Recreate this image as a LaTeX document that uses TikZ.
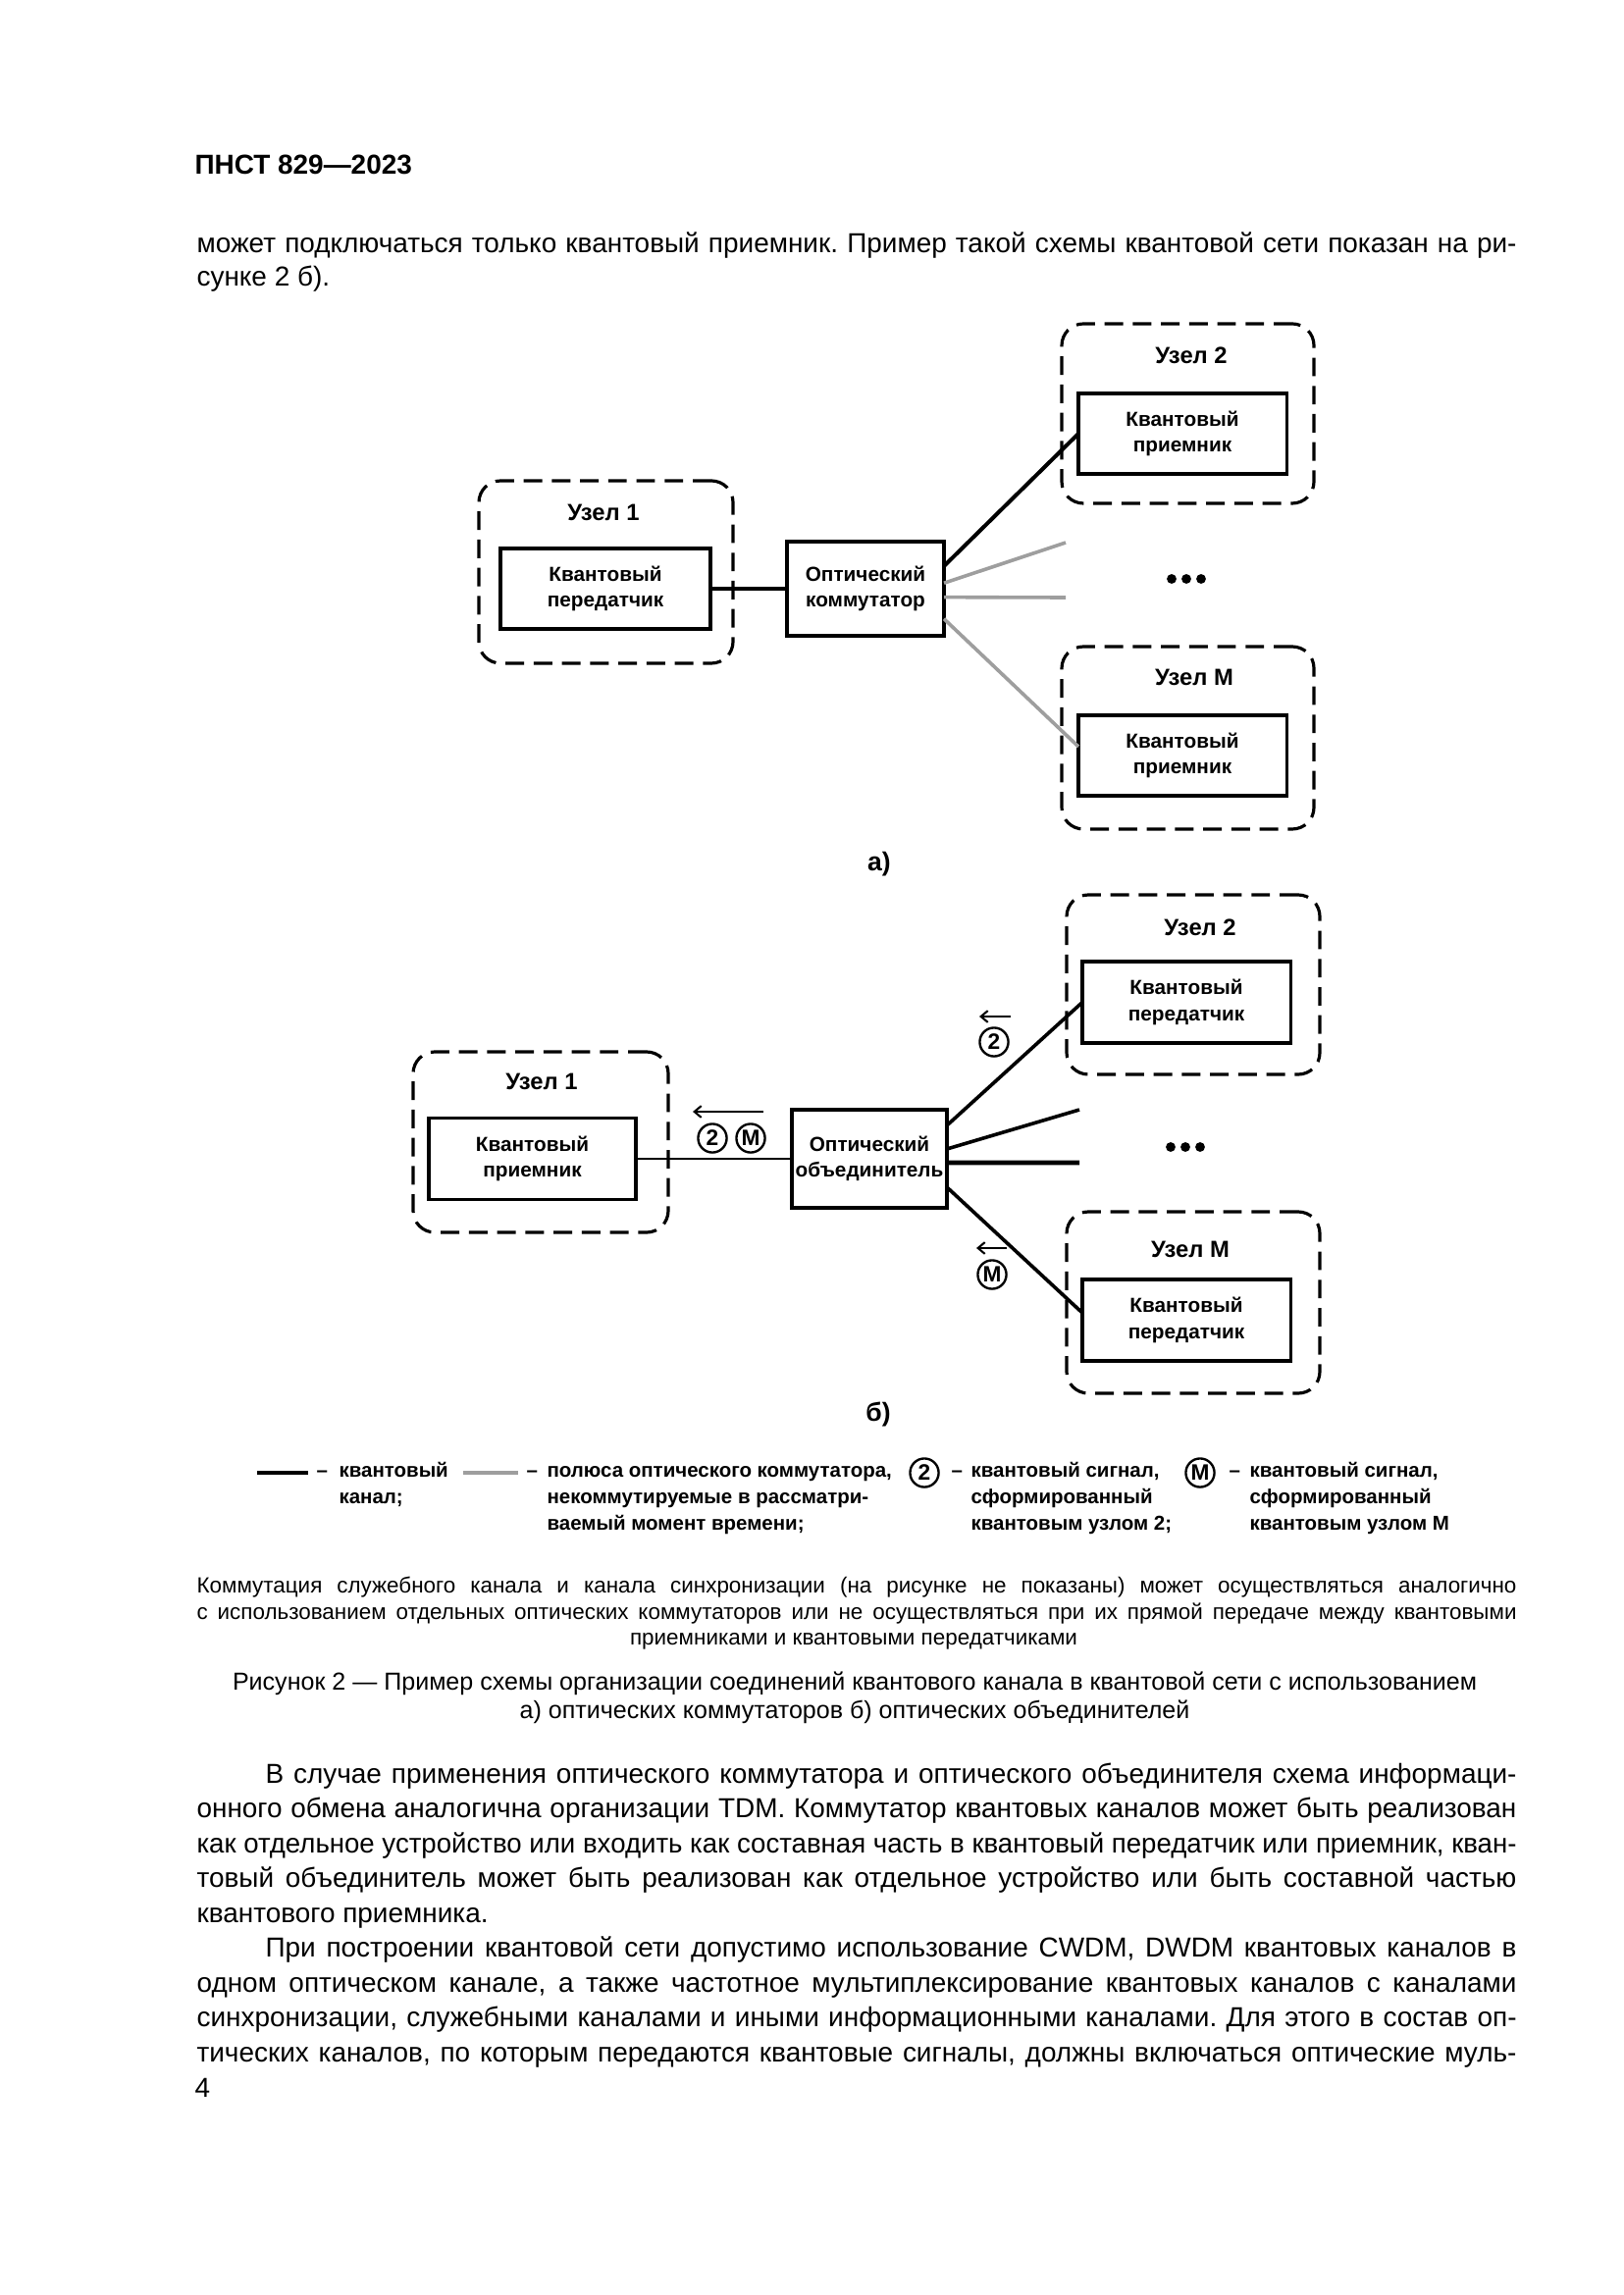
\documentclass[tikz,border=0pt]{standalone}
\usepackage{fontspec}
\setmainfont{Liberation Sans}
\usetikzlibrary{calc,arrows.meta}
\frenchspacing
\newlength\jlw
\newsavebox\jlbox
\newcommand\jl[2]{\setlength\jlw{#1}\sbox\jlbox{#2}\ifdim\wd\jlbox>\jlw\relax\scalebox{\fpeval{\the\jlw/\the\wd\jlbox}}[1]{\usebox\jlbox}\else\makebox[\jlw][s]{#2}\fi}
\newcommand\fbody{\fontsize{10.1}{12.7}\selectfont}
\newcommand\fnote{\fontsize{8.1}{9.5}\selectfont}
\newcommand\fcap{\fontsize{9.05}{10.5}\selectfont}
\newcommand\ffig{\fontsize{7.5}{9.6}\selectfont\bfseries}
\newcommand\flab{\fontsize{8.6}{10}\selectfont\bfseries}
\newcommand\fleg{\fontsize{7.4}{9.6}\selectfont\bfseries}
\begin{document}
\begin{tikzpicture}[x=0.127mm,y=-0.127mm,
  sz/.style 2 args={minimum width=#1*0.127mm,minimum height=#2*0.127mm},
  dnode/.style={draw,dash pattern=on 2.4mm off 1.25mm,line width=1.15pt,rounded corners=2.8mm,inner sep=0,outer sep=0},
  bx/.style={draw,line width=1.1pt,inner sep=0,outer sep=0,align=center,font=\ffig},
  lbl/.style={inner sep=0,font=\flab},
  txt/.style={inner sep=0,anchor=base west},
  ltxt/.style={inner sep=0,anchor=base west,font=\fleg},
  ctxt/.style={inner sep=0,anchor=base},
  chan/.style={line width=1.45pt},
  chanb/.style={line width=1.3pt},
  chanthin/.style={line width=1.05pt},
  chanthick/.style={line width=1.8pt},
  grayl/.style={line width=1.3pt,draw=black!38},
  circ/.style={circle,draw,line width=0.85pt,minimum size=3.7mm,inner sep=0,font=\fontsize{8.2}{8}\selectfont\bfseries},
  sig/.style={line width=0.75pt,-{Straight Barb[length=0.9mm,width=1.5mm]}},
  dotn/.style={circle,fill,minimum size=1.25mm,inner sep=0}
]
\useasboundingbox (0,0) rectangle (1654,2339);

% header and top text
\node[txt] (hdr) at (198,178) {\fbody\bfseries ПНСТ 829—2023};
\node[txt] (p1) at (200,258) {\fbody\jl{170.8mm}{может подключаться только квантовый приемник. Пример такой схемы квантовой сети показан на ри-}};
\node[txt] (p2) at (200,292) {\fbody сунке 2 б).};

% ---------- figure a ----------
\node[dnode,sz={259}{186}] (a1) at (617.5,583) {};
\node[lbl] (a1l) at (615,522) {Узел 1};
\node[bx,sz={214}{82}] (atx) at (617,600) {Квантовый\\передатчик};
\node[bx,sz={160}{96}] (asw) at (882,600) {Оптический\\коммутатор};
\node[dnode,sz={257}{183}] (a2) at (1210.5,421.5) {};
\node[lbl] (a2l) at (1214,362) {Узел 2};
\node[bx,sz={212}{82}] (arx2) at (1205,442) {Квантовый\\приемник};
\node[dnode,sz={257}{186}] (aM) at (1210.5,752) {};
\node[lbl] (aMl) at (1217,690) {Узел М};
\node[bx,sz={212}{82}] (arxM) at (1205,770) {Квантовый\\приемник};
\node[dotn] (ad1) at (1194,590) {};
\node[dotn] (ad2) at (1209,590) {};
\node[dotn] (ad3) at (1224,590) {};
\node[lbl,font=\fontsize{9.6}{10}\selectfont\bfseries] (acap) at (896,881) {а)};
\coordinate (ag1) at (1086,553);
\coordinate (ag2) at (1086,609);
\draw[chan] (atx.east) -- (asw.west);
\draw[chan] ($(asw.north east)!0.26!(asw.south east)$) -- (arx2.west);
\draw[grayl] ($(asw.north east)!0.44!(asw.south east)$) -- (ag1);
\draw[grayl] ($(asw.north east)!0.59!(asw.south east)$) -- (ag2);
\draw[grayl] ($(asw.north east)!0.82!(asw.south east)$) -- ($(arxM.north west)!0.39!(arxM.south west)$);

% ---------- figure b ----------
\node[dnode,sz={260}{184}] (b1) at (551,1164) {};
\node[lbl] (b1l) at (552,1102) {Узел 1};
\node[bx,sz={211}{83}] (brx) at (542.5,1181) {Квантовый\\приемник};
\node[bx,sz={158}{100}] (bcb) at (886,1181) {Оптический\\объединитель};
\node[dnode,sz={258}{183}] (b2) at (1216,1003.5) {};
\node[lbl] (b2l) at (1223,945) {Узел 2};
\node[bx,sz={212}{83}] (btx2) at (1209,1021.5) {Квантовый\\передатчик};
\node[dnode,sz={258}{185}] (bM) at (1216,1327.5) {};
\node[lbl] (bMl) at (1213,1273) {Узел М};
\node[bx,sz={212}{83}] (btxM) at (1209,1345.5) {Квантовый\\передатчик};
\node[dotn] (bd1) at (1193,1169) {};
\node[dotn] (bd2) at (1208,1169) {};
\node[dotn] (bd3) at (1223,1169) {};
\node[lbl,font=\fontsize{9.6}{10}\selectfont\bfseries] (bcap) at (895,1442) {б)};
\coordinate (bg1) at (1100,1131);
\coordinate (bg2) at (1100,1185);
\draw[chanthin] (brx.east) -- (bcb.west);
\draw[chanb] ($(bcb.north east)!0.16!(bcb.south east)$) -- (btx2.west);
\draw[chanb] ($(bcb.north east)!0.40!(bcb.south east)$) -- (bg1);
\draw[chanthick] ($(bcb.north east)!0.54!(bcb.south east)$) -- (bg2);
\draw[chanb] ($(bcb.north east)!0.79!(bcb.south east)$) -- ($(btxM.north west)!0.41!(btxM.south west)$);
% signal marks
\coordinate (s1a) at (1030,1036); \coordinate (s1b) at (998,1036);
\draw[sig] (s1a) -- (s1b);
\node[circ] (c1) at (1013,1062) {2};
\coordinate (s2a) at (1026,1272); \coordinate (s2b) at (995,1272);
\draw[sig] (s2a) -- (s2b);
\node[circ] (c2) at (1011,1299) {М};
\coordinate (s3a) at (778,1133); \coordinate (s3b) at (706,1133);
\draw[sig] (s3a) -- (s3b);
\node[circ] (c3) at (726,1160) {2};
\node[circ] (c4) at (765,1160) {М};

% ---------- legend ----------
\coordinate (l1a) at (262,1501); \coordinate (l1b) at (314,1501);
\draw[chan] (l1a) -- (l1b);
\node[ltxt] (l1d) at (322,1505) {–};
\node[ltxt] (l1t1) at (345,1505) {квантовый};
\node[ltxt] (l1t2) at (345,1532) {канал;};
\coordinate (l2a) at (472,1501); \coordinate (l2b) at (528,1501);
\draw[grayl] (l2a) -- (l2b);
\node[ltxt] (l2d) at (536,1505) {–};
\node[ltxt] (l2t1) at (557,1505) {полюса оптического коммутатора,};
\node[ltxt] (l2t2) at (557,1532) {некоммутируемые в рассматри-};
\node[ltxt] (l2t3) at (557,1559) {ваемый момент времени;};
\node[circ] (lc2) at (942,1501) {2};
\node[ltxt] (l3d) at (969,1505) {–};
\node[ltxt] (l3t1) at (989,1505) {квантовый сигнал,};
\node[ltxt] (l3t2) at (989,1532) {сформированный};
\node[ltxt] (l3t3) at (989,1559) {квантовым узлом 2;};
\node[circ] (lcM) at (1223,1501) {М};
\node[ltxt] (l4d) at (1252,1505) {–};
\node[ltxt] (l4t1) at (1273,1505) {квантовый сигнал,};
\node[ltxt] (l4t2) at (1273,1532) {сформированный};
\node[ltxt] (l4t3) at (1273,1559) {квантовым узлом М};

% ---------- note and caption ----------
\node[txt] (n1) at (200,1623) {\fnote\jl{170.8mm}{Коммутация служебного канала и канала синхронизации (на рисунке не показаны) может осуществляться аналогично}};
\node[txt] (n2) at (200,1650) {\fnote\jl{170.8mm}{с использованием отдельных оптических коммутаторов или не осуществляться при их прямой передаче между квантовыми}};
\node[ctxt] (n3) at (870,1676) {\fnote приемниками и квантовыми передатчиками};
\node[ctxt] (cap1) at (871,1722) {\fcap Рисунок 2 — Пример схемы организации соединений квантового канала в квантовой сети с использованием};
\node[ctxt] (cap2) at (871,1751) {\fcap а) оптических коммутаторов б) оптических объединителей};

% ---------- body ----------
\node[txt] (b01) at (270,1817) {\fbody\jl{161.9mm}{В случае применения оптического коммутатора и оптического объединителя схема информаци-}};
\node[txt] (b02) at (200,1852.5) {\fbody\jl{170.8mm}{онного обмена аналогична организации TDM. Коммутатор квантовых каналов может быть реализован}};
\node[txt] (b03) at (200,1888) {\fbody\jl{170.8mm}{как отдельное устройство или входить как составная часть в квантовый передатчик или приемник, кван-}};
\node[txt] (b04) at (200,1923.5) {\fbody\jl{170.8mm}{товый объединитель может быть реализован как отдельное устройство или быть составной частью}};
\node[txt] (b05) at (200,1959) {\fbody квантового приемника.};
\node[txt] (b06) at (270,1994.5) {\fbody\jl{161.9mm}{При построении квантовой сети допустимо использование CWDM, DWDM квантовых каналов в}};
\node[txt] (b07) at (200,2030) {\fbody\jl{170.8mm}{одном оптическом канале, а также частотное мультиплексирование квантовых каналов с каналами}};
\node[txt] (b08) at (200,2065.5) {\fbody\jl{170.8mm}{синхронизации, служебными каналами и иными информационными каналами. Для этого в состав оп-}};
\node[txt] (b09) at (200,2101) {\fbody\jl{170.8mm}{тических каналов, по которым передаются квантовые сигналы, должны включаться оптические муль-}};
\node[txt] (pg) at (198,2137) {\fbody 4};
\end{tikzpicture}
\end{document}
